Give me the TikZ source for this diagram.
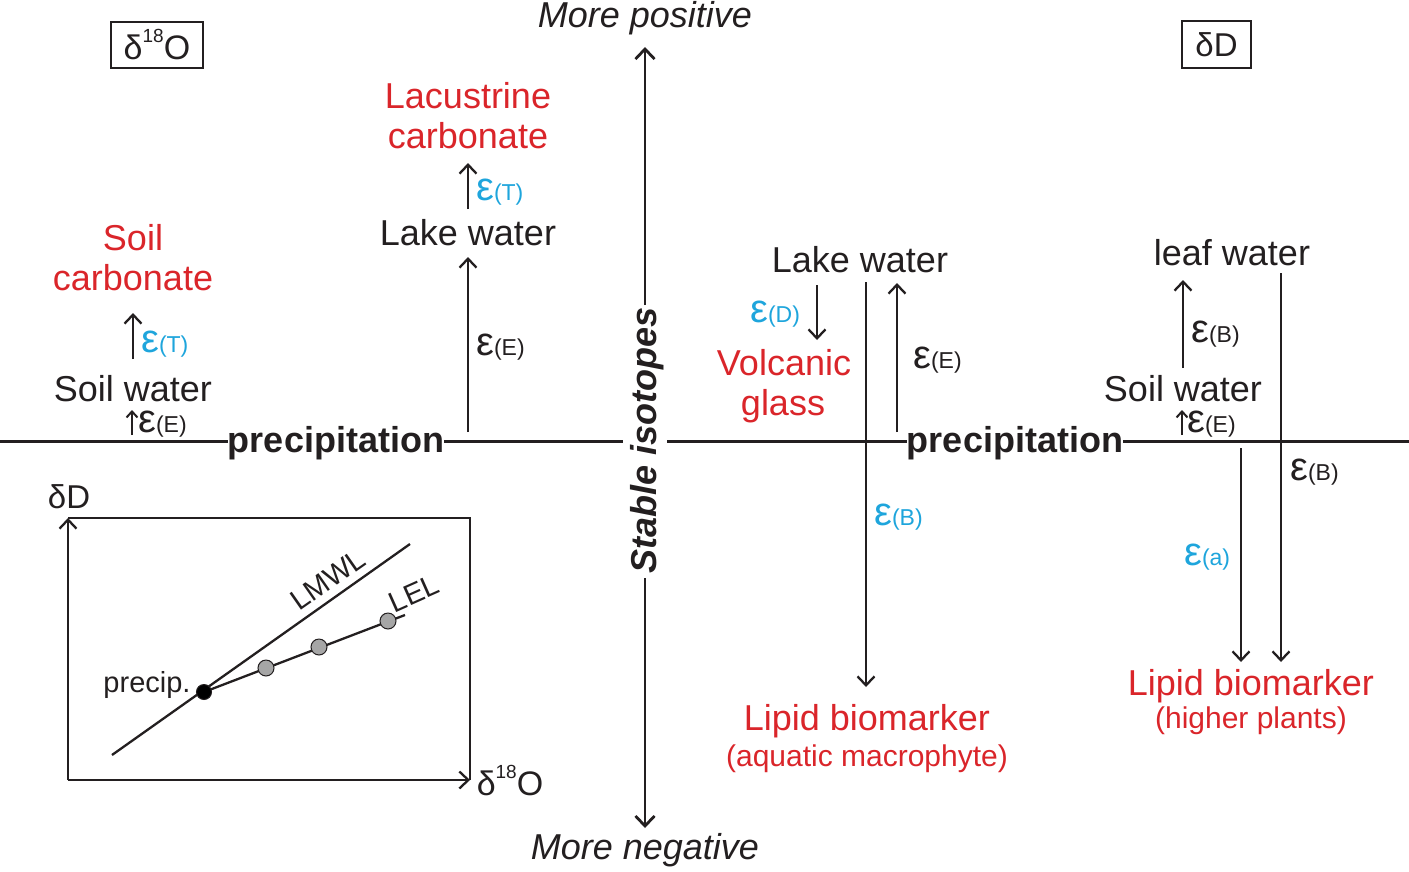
\documentclass[tikz,border=0pt]{standalone}
\usepackage{fontspec}
\setmainfont{Liberation Sans}
\usetikzlibrary{arrows.meta}
\definecolor{myred}{RGB}{218,37,42}
\definecolor{myblue}{RGB}{30,165,220}
\definecolor{ink}{RGB}{35,31,32}
\newcommand\epsl[1]{{\fontsize{40}{40}\selectfont ε}{\fontsize{23}{23}\selectfont(#1)}}
\newcommand\dO[1]{δ\raisebox{0.5em}{\fontsize{19}{19}\selectfont 18}O}
\begin{document}
\begin{tikzpicture}[x=1pt,y=-1pt,
  txt/.style={inner sep=0, anchor=base, text=ink, font=\fontsize{36}{40}\selectfont},
  redtxt/.style={txt, text=myred},
  subred/.style={txt, text=myred, font=\fontsize{30}{34}\selectfont},
  prec/.style={txt, fill=white, font=\fontsize{36}{40}\selectfont\bfseries},
  ital/.style={txt, font=\fontsize{36}{40}\selectfont\itshape},
  eps/.style={inner sep=0, anchor=base west, text=ink},
  epsb/.style={eps, text=myblue},
  isobox/.style={draw=ink, line width=2.6pt, inner sep=0, text=ink},
  arr/.style={draw=ink, line width=2.3pt, -{Straight Barb[length=9pt,width=17pt]}},
  sarr/.style={draw=ink, line width=2pt, -{Straight Barb[length=6pt,width=11pt]}},
  bigarr/.style={draw=ink, line width=2.8pt, -{Straight Barb[length=10pt,width=19pt]}},
  ln/.style={draw=ink, line width=2.3pt},
  axis/.style={draw=ink, line width=3pt},
  small/.style={txt, font=\fontsize{29}{33}\selectfont},
]
\useasboundingbox (0,0) rectangle (1409,871);

% ---------- main axes ----------
\coordinate (hL) at (0,441);
\coordinate (hLe) at (623,441);
\coordinate (hRs) at (667,441);
\coordinate (hR) at (1409,441);
\draw[axis] (hL) -- (hLe);
\draw[axis] (hRs) -- (hR);

\node[ital] (mpos) at (645,27) {More positive};
\node[ital] (mneg) at (645,859) {More negative};
\coordinate (vTopS) at (645,305);
\coordinate (vTopE) at (645,47);
\coordinate (vBotS) at (645,578);
\coordinate (vBotE) at (645,828);
\draw[bigarr] (vTopS) -- (vTopE);
\draw[bigarr] (vBotS) -- (vBotE);
\node[txt, rotate=90, font=\fontsize{36}{40}\selectfont\bfseries\itshape] (stable) at (656,440) {Stable isotopes};

% ---------- left panel (delta 18O) ----------
\node[isobox, minimum width=92pt, minimum height=46pt, font=\fontsize{34}{38}\selectfont] (boxO) at (157,45) {\dO{}};

\node[redtxt] (soil1) at (133,250) {Soil};
\node[redtxt] (soil2) at (133,290) {carbonate};
\coordinate (a1s) at (133,359);
\coordinate (a1e) at (133,313);
\draw[arr] (a1s) -- (a1e);
\node[epsb] (eT1) at (141,352) {\epsl{T}};
\node[txt] (soilw1) at (133,401) {Soil water};
\coordinate (a2s) at (132,435);
\coordinate (a2e) at (132,410);
\draw[sarr] (a2s) -- (a2e);
\node[eps] (eE1) at (138,432) {\epsl{E}};

\node[prec] (prec1) at (336,452) {precipitation};

\coordinate (a3s) at (468,432);
\coordinate (a3e) at (468,257);
\draw[arr] (a3s) -- (a3e);
\node[eps] (eE2) at (476,355) {\epsl{E}};
\node[txt] (lake1) at (468,245) {Lake water};
\coordinate (a4s) at (468,209);
\coordinate (a4e) at (468,163);
\draw[arr] (a4s) -- (a4e);
\node[epsb] (eT2) at (476,200) {\epsl{T}};
\node[redtxt] (lac1) at (468,108) {Lacustrine};
\node[redtxt] (lac2) at (468,148) {carbonate};

% ---------- right panel (delta D) ----------
\node[isobox, minimum width=69pt, minimum height=47pt, font=\fontsize{33}{37}\selectfont] (boxD) at (1216.5,44.5) {δD};

\node[txt] (lake2) at (860,272) {Lake water};
\node[epsb] (eD) at (750,322) {\epsl{D}};
\coordinate (a5s) at (817,285);
\coordinate (a5e) at (817,340);
\draw[arr] (a5s) -- (a5e);
\node[redtxt] (volc1) at (784,375) {Volcanic};
\node[redtxt] (volc2) at (783,415) {glass};

\coordinate (a6s) at (866,282);
\coordinate (a6e) at (866,687);
\draw[arr] (a6s) -- (a6e);
\node[epsb] (eB1) at (874,525) {\epsl{B}};
\coordinate (a7s) at (897,432);
\coordinate (a7e) at (897,283);
\draw[arr] (a7s) -- (a7e);
\node[eps] (eE3) at (913,368) {\epsl{E}};

\node[prec] (prec2) at (1015,452) {precipitation};

\node[txt] (leaf) at (1232,265) {leaf water};
\coordinate (a8s) at (1183,368);
\coordinate (a8e) at (1183,280);
\draw[arr] (a8s) -- (a8e);
\node[eps] (eB2) at (1191,342) {\epsl{B}};
\node[txt] (soilw2) at (1183,401) {Soil water};
\coordinate (a9s) at (1182,435);
\coordinate (a9e) at (1182,410);
\draw[sarr] (a9s) -- (a9e);
\node[eps] (eE4) at (1187,432) {\epsl{E}};

\coordinate (a10s) at (1281,273);
\coordinate (a10e) at (1281,662);
\draw[arr] (a10s) -- (a10e);
\node[eps] (eB3) at (1290,480) {\epsl{B}};
\coordinate (a11s) at (1241,448);
\coordinate (a11e) at (1241,662);
\draw[arr] (a11s) -- (a11e);
\node[epsb] (ea) at (1184,565) {\epsl{a}};

\node[redtxt] (lipR) at (1251,695) {Lipid biomarker};
\node[subred] (lipR2) at (1251,728) {(higher plants)};
\node[redtxt] (lipL) at (867,730) {Lipid biomarker};
\node[subred] (lipL2) at (867,766) {(aquatic macrophyte)};

% ---------- inset ----------
\coordinate (o) at (68,780);
\coordinate (yt) at (68,518);
\coordinate (xr) at (470,780);
\coordinate (tr) at (470,518);
\draw[ln] (yt) -- (tr) -- (xr);
\draw[arr] (o) -- (yt);
\draw[arr] (o) -- (xr);
\node[txt, font=\fontsize{33}{37}\selectfont] (lD) at (69,508) {δD};
\node[txt, font=\fontsize{34}{38}\selectfont] (lO) at (510,795) {\dO{}};

\coordinate (m1) at (112,755);
\coordinate (m2) at (410,544);
\draw[ln] (m1) -- (m2);
\coordinate (p0) at (204,692);
\coordinate (e2) at (405,615);
\draw[ln] (p0) -- (e2);
\node[draw=ink, line width=1pt, fill=black, circle, minimum size=15pt, inner sep=0] (dp) at (p0) {};
\node[draw=ink, line width=1pt, fill=gray!70, circle, minimum size=16pt, inner sep=0] (g1) at (266,668) {};
\node[draw=ink, line width=1pt, fill=gray!70, circle, minimum size=16pt, inner sep=0] (g2) at (319,647) {};
\node[draw=ink, line width=1pt, fill=gray!70, circle, minimum size=16pt, inner sep=0] (g3) at (388,621) {};
\node[small] (precip) at (147,692) {precip.};
\node[small, anchor=south, rotate=35] (lmwl) at (334,588) {LMWL};
\node[small, anchor=south, rotate=24] (lel) at (418,603) {LEL};
\end{tikzpicture}
\end{document}
